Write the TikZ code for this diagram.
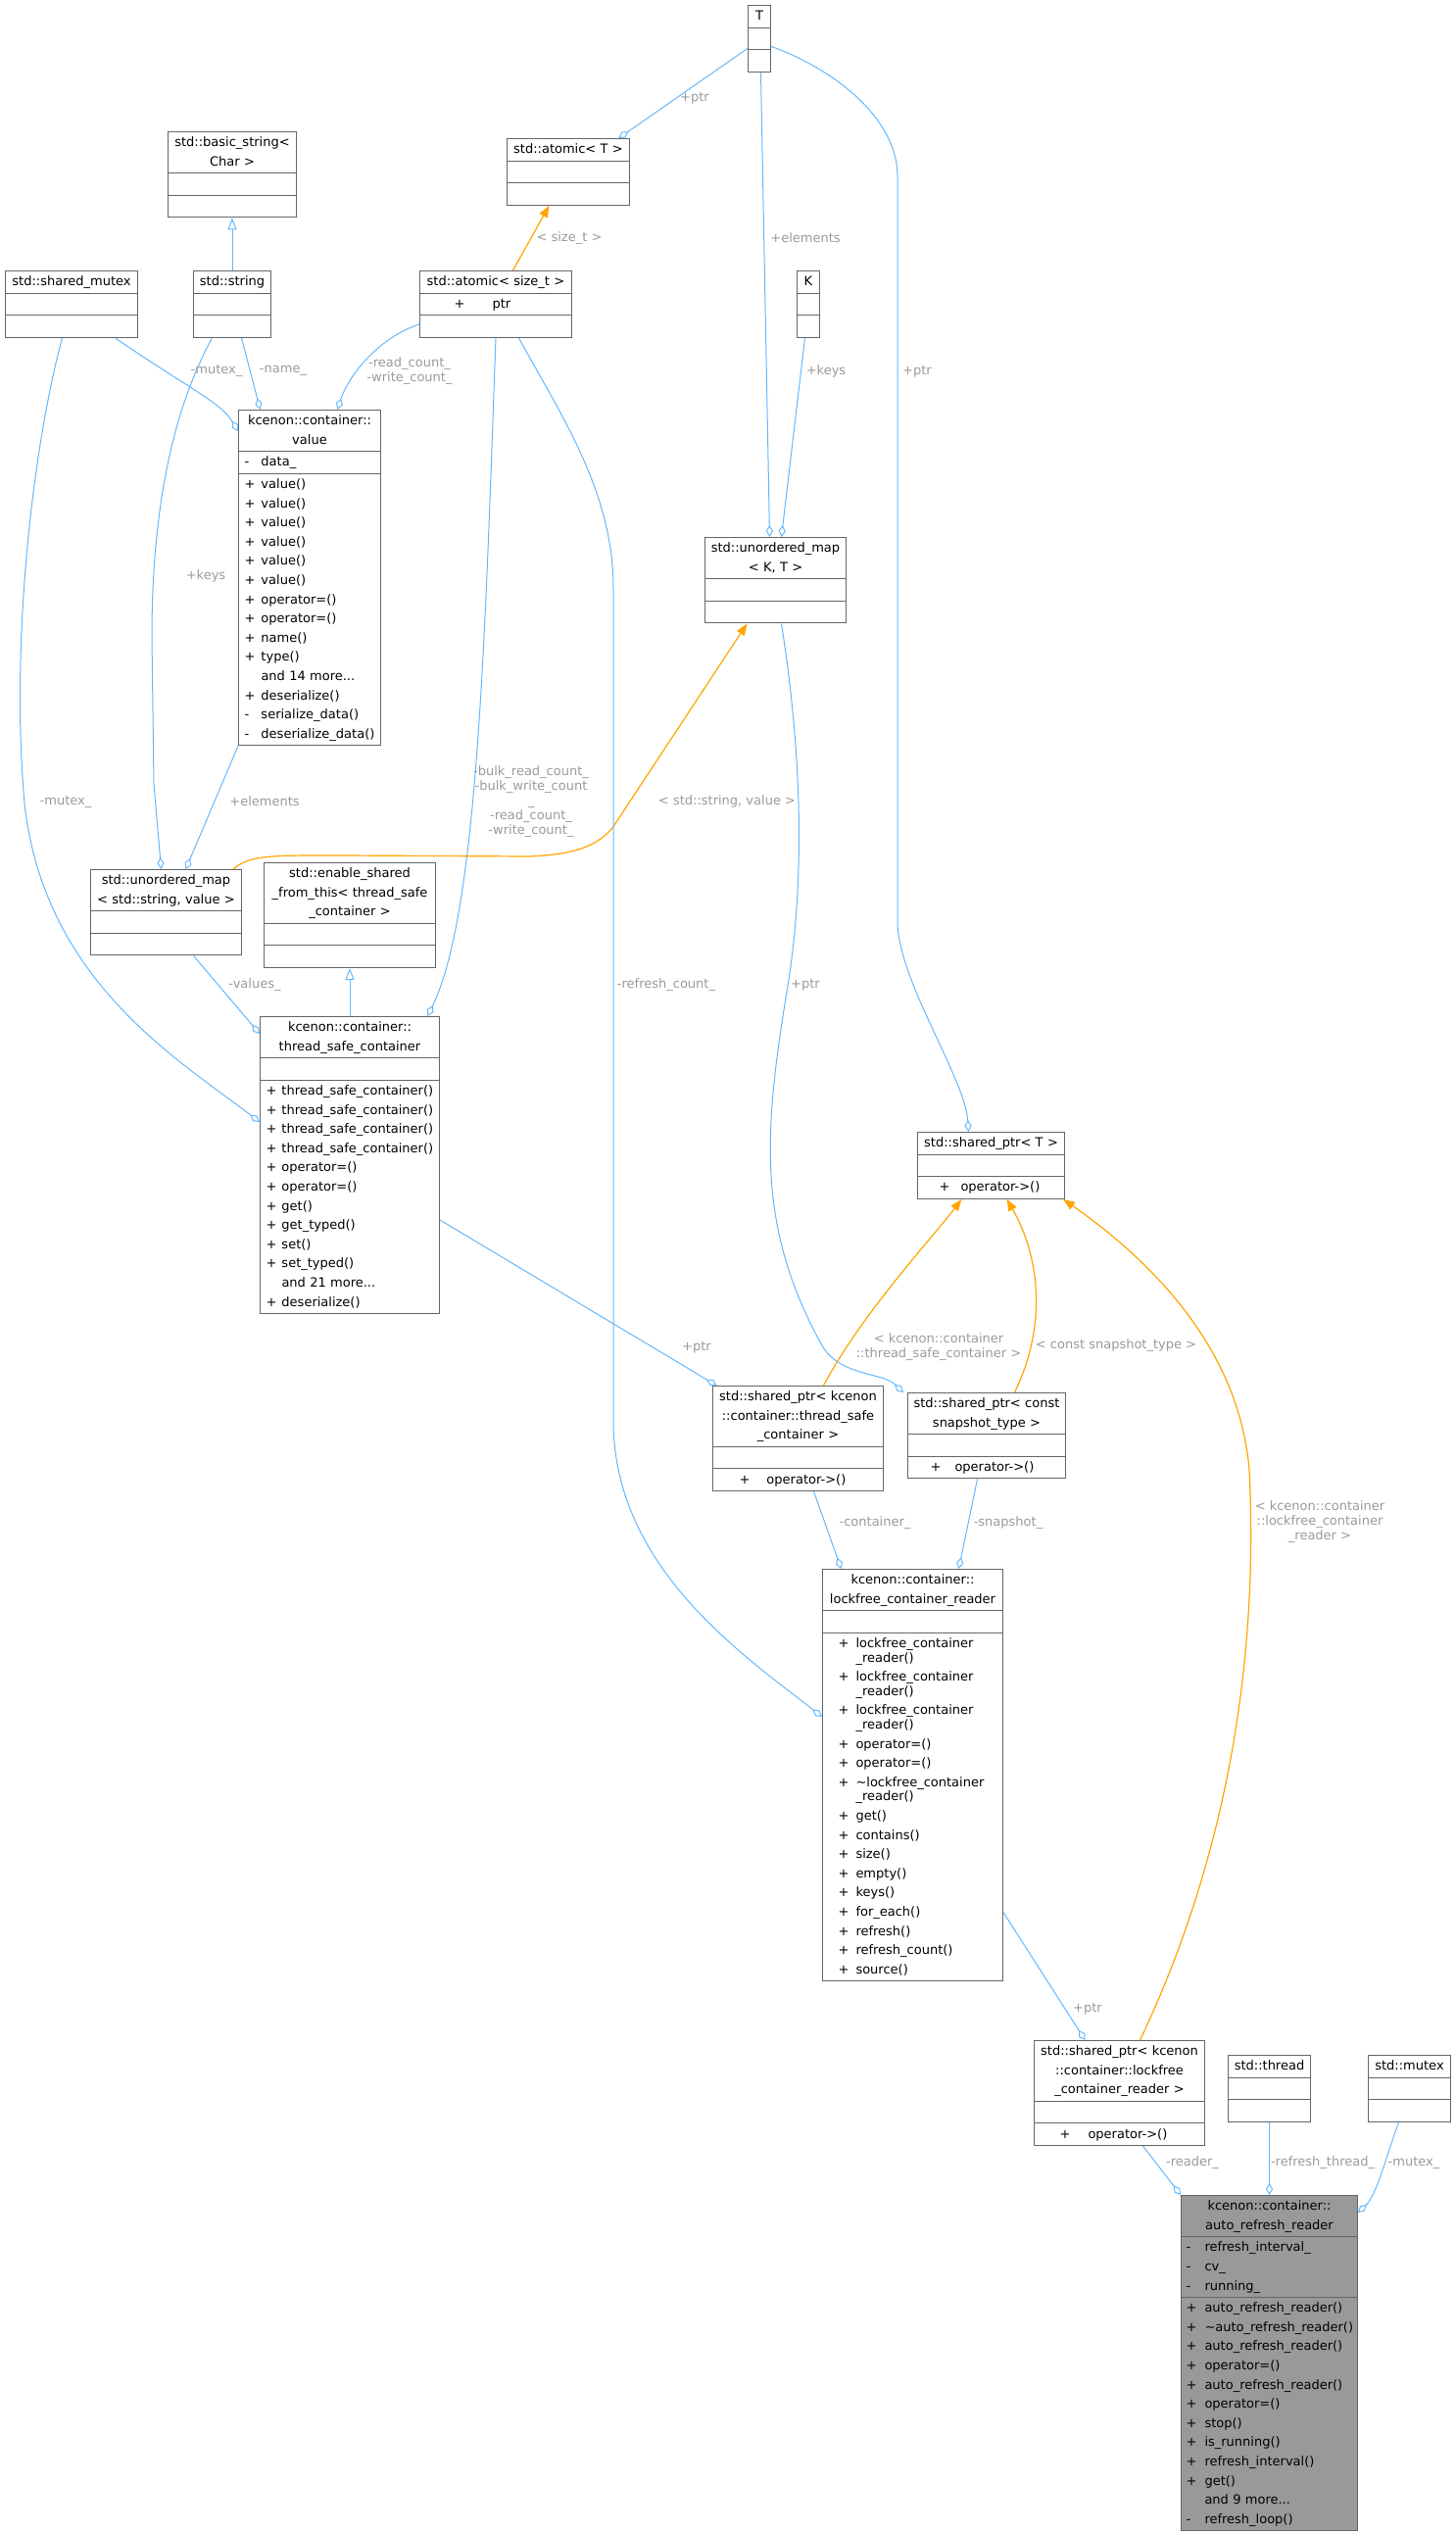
\documentclass[tikz,border=0pt]{standalone}
\usepackage{fontspec}
\setmainfont{DejaVu Sans}
\usetikzlibrary{shapes.multipart,arrows.meta}
\definecolor{eblue}{HTML}{63B8FF}
\definecolor{eorange}{HTML}{FFA500}
\definecolor{lgray}{HTML}{9A9A9A}
\definecolor{boxc}{HTML}{666666}
\definecolor{boxfill}{HTML}{999999}
\newcommand\tl[1]{\strut\mbox{#1}\par}
\newcommand\mm[4]{\strut\hspace*{#1}\makebox[#2][l]{#3}\mbox{#4}\par}
\newcommand\mc{\vspace{-2.5pt}}
\begin{document}
\catcode`\_=12
\begin{tikzpicture}[x=0.5pt,y=-0.5pt,
  cls/.style={rectangle split, rectangle split parts=3, draw=boxc, line width=0.5pt,
    anchor=north west, inner xsep=1.5pt, inner ysep=0.5pt, align=left,
    font=\fontsize{6.5}{9.8}\selectfont},
  e/.style={draw=eblue, line width=0.5pt},
  agg/.style={e, -{Diamond[open,length=6pt,width=3.6pt]}},
  inh/.style={e, -{Triangle[open,length=6pt,width=4.5pt]}},
  tpl/.style={draw=eorange, line width=0.6pt, -{Triangle[length=6pt,width=4.5pt]}},
  lbl/.style={text=lgray, font=\fontsize{6.5}{7.5}\selectfont, align=center, inner sep=0pt}]
\useasboundingbox (0,0) rectangle (1485,2585);

% boxes
\node[cls,text width=8.5pt] (T) at (763,5) {\centering\tl{T}\nodepart{two}\strut\nodepart{three}\strut};
\node[cls,text width=62.5pt] (bstr) at (171,134) {\centering\tl{std::basic_string<}\tl{Char >}\nodepart{two}\strut\nodepart{three}\strut};
\node[cls,text width=64.5pt] (smut) at (5,276) {\centering\tl{std::shared_mutex}\nodepart{two}\strut\nodepart{three}\strut};
\node[cls,text width=36.5pt] (str) at (197,276) {\centering\tl{std::string}\nodepart{two}\strut\nodepart{three}\strut};
\node[cls,text width=59.5pt] (aT) at (517,141) {\centering\tl{std::atomic< T >}\nodepart{two}\strut\nodepart{three}\strut};
\node[cls,text width=74.5pt] (aS) at (428,276) {\centering\tl{std::atomic< size_t >}\nodepart{two}\mm{16pt}{19.5pt}{+}{ptr}\nodepart{three}\strut};
\node[cls,text width=8.5pt] (K) at (813,276) {\centering\tl{K}\nodepart{two}\strut\nodepart{three}\strut};
\node[cls,text width=69.5pt] (value) at (243,418) {\centering\tl{kcenon::container::}\tl{value}
 \nodepart{two}\mm{1.5pt}{8.5pt}{-}{data_}
 \nodepart{three}\mm{1.5pt}{8.5pt}{+}{value()}\mm{1.5pt}{8.5pt}{+}{value()}\mm{1.5pt}{8.5pt}{+}{value()}\mm{1.5pt}{8.5pt}{+}{value()}\mm{1.5pt}{8.5pt}{+}{value()}\mm{1.5pt}{8.5pt}{+}{value()}\mm{1.5pt}{8.5pt}{+}{operator=()}\mm{1.5pt}{8.5pt}{+}{operator=()}\mm{1.5pt}{8.5pt}{+}{name()}\mm{1.5pt}{8.5pt}{+}{type()}\mm{1.5pt}{8.5pt}{}{and 14 more...}\mm{1.5pt}{8.5pt}{+}{deserialize()}\mm{1.5pt}{8.5pt}{-}{serialize_data()}\mm{1.5pt}{8.5pt}{-}{deserialize_data()}};
\node[cls,text width=69pt] (umKT) at (719,548) {\centering\tl{std::unordered_map}\tl{< K, T >}\nodepart{two}\strut\nodepart{three}\strut};
\node[cls,text width=74pt] (umSV) at (92,887) {\centering\tl{std::unordered_map}\tl{< std::string, value >}\nodepart{two}\strut\nodepart{three}\strut};
\node[cls,text width=84.5pt] (en) at (269,880) {\centering\tl{std::enable_shared}\tl{_from_this< thread_safe}\tl{_container >}\nodepart{two}\strut\nodepart{three}\strut};
\node[cls,text width=88.5pt] (tsc) at (265,1037) {\centering\tl{kcenon::container::}\tl{thread_safe_container}
 \nodepart{two}\strut
 \nodepart{three}\mm{1.5pt}{8pt}{+}{thread_safe_container()}\mm{1.5pt}{8pt}{+}{thread_safe_container()}\mm{1.5pt}{8pt}{+}{thread_safe_container()}\mm{1.5pt}{8pt}{+}{thread_safe_container()}\mm{1.5pt}{8pt}{+}{operator=()}\mm{1.5pt}{8pt}{+}{operator=()}\mm{1.5pt}{8pt}{+}{get()}\mm{1.5pt}{8pt}{+}{get_typed()}\mm{1.5pt}{8pt}{+}{set()}\mm{1.5pt}{8pt}{+}{set_typed()}\mm{1.5pt}{8pt}{}{and 21 more...}\mm{1.5pt}{8pt}{+}{deserialize()}};
\node[cls,text width=72pt] (spT) at (936,1155) {\centering\tl{std::shared_ptr< T >}\nodepart{two}\strut\nodepart{three}\mm{9.5pt}{11pt}{+}{operator->()}};
\node[cls,text width=84pt] (spTSC) at (727,1414) {\centering\tl{std::shared_ptr< kcenon}\tl{::container::thread_safe}\tl{_container >}\nodepart{two}\strut\nodepart{three}\mm{12pt}{14pt}{+}{operator->()}};
\node[cls,text width=77.5pt] (sn) at (926,1421) {\centering\tl{std::shared_ptr< const}\tl{snapshot_type >}\nodepart{two}\strut\nodepart{three}\mm{10pt}{12.5pt}{+}{operator->()}};
\node[cls,text width=89pt] (lf) at (839,1601) {\centering\tl{kcenon::container::}\tl{lockfree_container_reader}
 \nodepart{two}\strut
 \nodepart{three}\mm{6.5pt}{9pt}{+}{lockfree_container}\mc\mm{6.5pt}{9pt}{}{_reader()}\mm{6.5pt}{9pt}{+}{lockfree_container}\mc\mm{6.5pt}{9pt}{}{_reader()}\mm{6.5pt}{9pt}{+}{lockfree_container}\mc\mm{6.5pt}{9pt}{}{_reader()}\mm{6.5pt}{9pt}{+}{operator=()}\mm{6.5pt}{9pt}{+}{operator=()}\mm{6.5pt}{9pt}{+}{\textasciitilde lockfree_container}\mc\mm{6.5pt}{9pt}{}{_reader()}\mm{6.5pt}{9pt}{+}{get()}\mm{6.5pt}{9pt}{+}{contains()}\mm{6.5pt}{9pt}{+}{size()}\mm{6.5pt}{9pt}{+}{empty()}\mm{6.5pt}{9pt}{+}{keys()}\mm{6.5pt}{9pt}{+}{for_each()}\mm{6.5pt}{9pt}{+}{refresh()}\mm{6.5pt}{9pt}{+}{refresh_count()}\mm{6.5pt}{9pt}{+}{source()}};
\node[cls,text width=84pt] (spL) at (1055,2082) {\centering\tl{std::shared_ptr< kcenon}\tl{::container::lockfree}\tl{_container_reader >}\nodepart{two}\strut\nodepart{three}\mm{11.5pt}{14.5pt}{+}{operator->()}};
\node[cls,text width=39pt] (thr) at (1253,2097) {\centering\tl{std::thread}\nodepart{two}\strut\nodepart{three}\strut};
\node[cls,text width=39pt] (mtx) at (1396,2097) {\centering\tl{std::mutex}\nodepart{two}\strut\nodepart{three}\strut};
\node[cls,text width=87pt,fill=boxfill] (auto) at (1205,2240) {\centering\tl{kcenon::container::}\tl{auto_refresh_reader}
 \nodepart{two}\mm{1pt}{9.5pt}{-}{refresh_interval_}\mm{1pt}{9.5pt}{-}{cv_}\mm{1pt}{9.5pt}{-}{running_}
 \nodepart{three}\mm{1pt}{9.5pt}{+}{auto_refresh_reader()}\mm{1pt}{9.5pt}{+}{\textasciitilde auto_refresh_reader()}\mm{1pt}{9.5pt}{+}{auto_refresh_reader()}\mm{1pt}{9.5pt}{+}{operator=()}\mm{1pt}{9.5pt}{+}{auto_refresh_reader()}\mm{1pt}{9.5pt}{+}{operator=()}\mm{1pt}{9.5pt}{+}{stop()}\mm{1pt}{9.5pt}{+}{is_running()}\mm{1pt}{9.5pt}{+}{refresh_interval()}\mm{1pt}{9.5pt}{+}{get()}\mm{1pt}{9.5pt}{}{and 9 more...}\mm{1pt}{9.5pt}{-}{refresh_loop()}};

% connectors
\draw[agg] ([yshift=-5pt]T.west) -- ([xshift=25.75pt]aT.north);
\draw[tpl] ([xshift=8.75pt]aS.north) -- ([xshift=-9.75pt]aT.south);
\draw[inh] (str.north) -- (bstr.south);
\draw[agg] ([xshift=22.25pt]smut.south) .. controls (190,395) and (225,410) .. ([yshift=-11pt]value.north west);
\draw[agg] ([xshift=4.75pt]str.south) -- ([xshift=-25.25pt]value.north);
\draw[agg] ([yshift=-10.25pt]aS.west) .. controls (385,345) and (355,385) .. ([xshift=14.25pt]value.north);
\draw[agg] ([xshift=-10.25pt]str.south) .. controls (170,430) and (155,540) .. (155,650) -- (157,800) -- ([xshift=-2.5pt]umSV.north);
\draw[agg] (value.south west) -- ([xshift=10pt]umSV.north);
\draw[agg] ([xshift=-4.75pt]smut.south) .. controls (35,450) and (10,650) .. (25,820) .. controls (45,1000) and (180,1080) .. ([yshift=-54pt]tsc.north west);
\draw[agg] ([xshift=14pt]umSV.south) -- ([yshift=-9pt]tsc.north west);
\draw[inh] (tsc.north) -- (en.south);
\draw[agg] (aS.south) .. controls (495,650) and (488,930) .. ([xshift=39.75pt]tsc.north);
\draw[tpl] ([xshift=-4.5pt]umSV.north east) .. controls (255,872) and (280,873) .. (350,873) -- (540,874) .. controls (590,872) and (610,862) .. (625,845) -- ([xshift=-14.5pt]umKT.south);
\draw[agg] ([xshift=0.75pt]T.south) -- ([xshift=-3pt]umKT.north);
\draw[agg] ([xshift=-1.75pt]K.south) -- ([xshift=3pt]umKT.north);
\draw[agg] ([yshift=-4pt]T.east) .. controls (850,70) and (916,120) .. (916,180) -- (916,940) .. controls (916,1000) and (985,1100) .. ([xshift=-11.5pt]spT.north);
\draw[agg] ([xshift=11.75pt]aS.south) .. controls (570,420) and (626,500) .. (626,600) -- (626,1450) .. controls (626,1600) and (760,1690) .. ([yshift=-75.5pt]lf.north west);
\draw[agg] ([xshift=3pt]umKT.south) .. controls (820,780) and (820,900) .. (805,1000) .. controls (780,1150) and (770,1250) .. (840,1375) .. controls (860,1405) and (900,1400) .. ([xshift=-2pt]sn.north west);
\draw[agg] ([yshift=-28pt]tsc.east) -- ([xshift=-41.5pt]spTSC.north);
\draw[tpl] ([xshift=13pt]spTSC.north) .. controls (880,1340) and (950,1265) .. ([xshift=-15pt]spT.south);
\draw[tpl] ([xshift=14.25pt]sn.north) .. controls (1070,1350) and (1060,1280) .. ([xshift=8pt]spT.south);
\draw[tpl] ([xshift=10.5pt]spL.north) .. controls (1250,1900) and (1285,1700) .. (1275,1500) .. controls (1265,1380) and (1180,1290) .. ([xshift=-1pt]spT.south east);
\draw[agg] ([xshift=8pt]spTSC.south) -- ([xshift=-36.5pt]lf.north);
\draw[agg] ([xshift=-4.75pt]sn.south) -- ([xshift=23.5pt]lf.north);
\draw[agg] ([yshift=-70pt]lf.east) -- ([xshift=-17.5pt]spL.north);
\draw[agg] ([xshift=12pt]spL.south) -- (auto.north west);
\draw[agg] (thr.south) -- (auto.north);
\draw[agg] ([xshift=-5.5pt]mtx.south) .. controls (1415,2200) and (1405,2240) .. ([yshift=-9pt]auto.north east);

% labels
\node[lbl] (l1) at (709,100) {+ptr};
\node[lbl] (l2) at (581,243) {< size_t >};
\node[lbl] (l3) at (221,378) {-mutex_};
\node[lbl] (l4) at (289,378) {-name_};
\node[lbl] (l5) at (418,379) {-read_count_\\-write_count_};
\node[lbl] (l6) at (210,588) {+keys};
\node[lbl] (l7) at (270,818) {+elements};
\node[lbl] (l8) at (67,818) {-mutex_};
\node[lbl] (l9) at (260,1005) {-values_};
\node[lbl] (l10) at (542,818) {-bulk_read_count_\\-bulk_write_count\\_\\-read_count_\\-write_count_};
\node[lbl] (l11) at (742,818) {< std::string, value >};
\node[lbl] (l12) at (822,243) {+elements};
\node[lbl] (l13) at (843,379) {+keys};
\node[lbl] (l14) at (936,379) {+ptr};
\node[lbl] (l15) at (680,1005) {-refresh_count_};
\node[lbl] (l16) at (822,1005) {+ptr};
\node[lbl] (l17) at (711,1375) {+ptr};
\node[lbl] (l18) at (958,1375) {< kcenon::container\\::thread_safe_container >};
\node[lbl] (l19) at (1139,1373) {< const snapshot_type >};
\node[lbl] (l20) at (1347,1553) {< kcenon::container\\::lockfree_container\\_reader >};
\node[lbl] (l21) at (893,1554) {-container_};
\node[lbl] (l22) at (1029,1554) {-snapshot_};
\node[lbl] (l23) at (1110,2050) {+ptr};
\node[lbl] (l24) at (1217,2207) {-reader_};
\node[lbl] (l25) at (1350,2207) {-refresh_thread_};
\node[lbl] (l26) at (1443,2207) {-mutex_};
\end{tikzpicture}
\end{document}
